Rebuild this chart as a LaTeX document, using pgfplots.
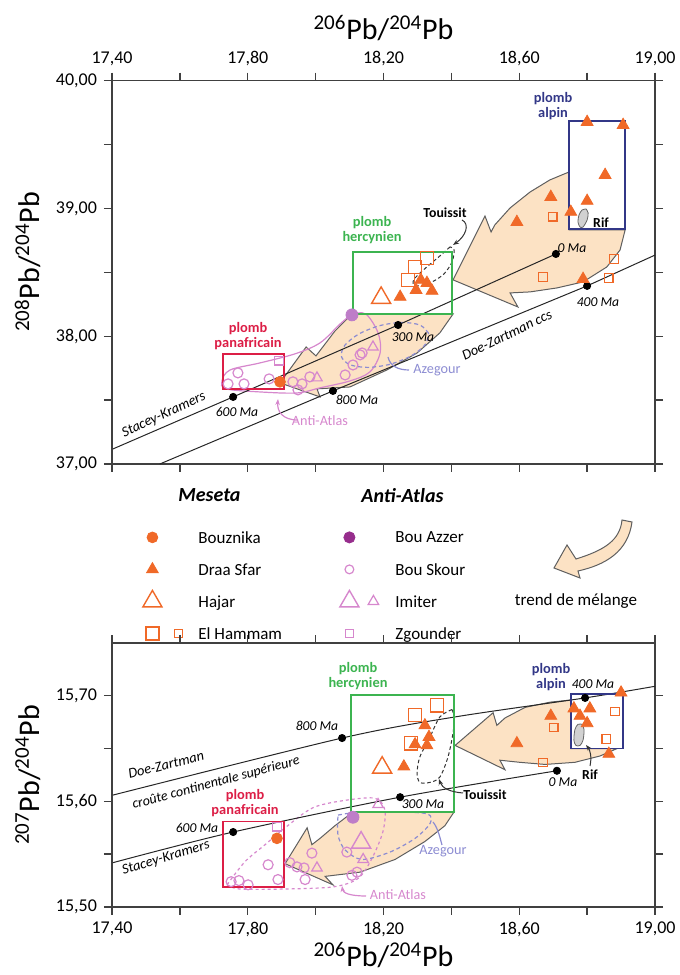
\documentclass[border=0pt]{standalone}
\usepackage{fontspec}
\setmainfont{Carlito}
\usepackage{pgfplots}
\pgfplotsset{compat=1.18}
\usetikzlibrary{arrows.meta}

\definecolor{orng}{RGB}{240,105,40}
\definecolor{pnk}{RGB}{214,135,205}
\definecolor{azz}{RGB}{190,125,200}
\definecolor{azzleg}{RGB}{150,45,140}
\definecolor{lav}{RGB}{140,140,210}
\definecolor{rbox}{RGB}{220,30,70}
\definecolor{gbox}{RGB}{60,180,80}
\definecolor{nbox}{RGB}{50,55,135}
\definecolor{peach}{RGB}{252,226,196}
\definecolor{arr}{RGB}{95,95,95}

\pgfplotsset{
  pb/.style={
    scale only axis, width=271.5pt, clip=false,
    xmin=17.4, xmax=19,
    xtick={17.4,17.8,18.2,18.6,19}, minor xtick={17.6,18,18.4,18.8},
    tick pos=both, tick align=outside,
    major tick length=4pt, minor tick length=4pt,
    axis line style={line width=0.7pt, black!75},
    tick style={line width=0.7pt, black!75},
    ticklabel style={font=\fontsize{9}{10}\selectfont},
    label style={font=\fontsize{15}{18}\selectfont},
    /pgf/number format/assume math mode=true,
    xticklabel style={/pgf/number format/fixed, /pgf/number format/fixed zerofill,
      /pgf/number format/precision=2, /pgf/number format/use comma},
    yticklabel style={/pgf/number format/fixed, /pgf/number format/fixed zerofill,
      /pgf/number format/precision=2, /pgf/number format/use comma},
  },
  ds/.style={only marks, mark=triangle*, mark size=3.4pt, color=orng, forget plot},
  hj/.style={only marks, mark=triangle, mark size=5.5pt, color=orng, mark options={line width=0.7pt}, forget plot},
  ehb/.style={only marks, mark=square, mark size=3.3pt, color=orng, mark options={line width=0.7pt}, forget plot},
  ehs/.style={only marks, mark=square, mark size=2.1pt, color=orng, mark options={line width=0.6pt}, forget plot},
  bz/.style={only marks, mark=*, mark size=2.7pt, color=orng, forget plot},
  ba/.style={only marks, mark=*, mark size=3pt, color=azz, forget plot},
  bs/.style={only marks, mark=o, mark size=2.5pt, color=pnk, mark options={line width=0.6pt}, forget plot},
  ims/.style={only marks, mark=triangle, mark size=3pt, color=pnk, mark options={line width=0.6pt}, forget plot},
  imb/.style={only marks, mark=triangle, mark size=5.5pt, color=pnk, mark options={line width=0.7pt}, forget plot},
  zg/.style={only marks, mark=square, mark size=2.1pt, color=pnk, mark options={line width=0.6pt}, forget plot},
  agept/.style={only marks, mark=*, mark size=1.8pt, color=black, forget plot},
  refl/.style={black!85, line width=0.5pt, no marks, forget plot},
  trend/.style={fill=peach, draw=arr, line width=0.5pt, no marks, forget plot},
  boxl/.style={line width=0.9pt, no marks, forget plot},
}

\begin{document}
\begin{tikzpicture}
\useasboundingbox (0,0) rectangle (340pt,487.5pt);

% ---------------- 208/204 vs 206/204 ----------------
\begin{axis}[pb, at={(56pt,255.5pt)}, anchor=south west, height=191.65pt,
  ymin=37, ymax=40, ytick={37,38,39,40}, minor ytick={37.5,38.5,39.5},
  xticklabel pos=upper,
  xlabel={\textsuperscript{206}Pb/\textsuperscript{204}Pb},
  ylabel={\textsuperscript{208}Pb/\textsuperscript{204}Pb},
  xlabel style={at={(axis description cs:0.5,1.1375)}, anchor=center},
  ylabel style={at={(axis description cs:-0.155,0.527)}, anchor=center},
  legend columns=2,
  legend style={at={(axis description cs:0.0516,-0.0548)}, anchor=north west,
    draw=none, fill=none, inner sep=0pt, column sep=0pt, row sep=0pt,
    font=\fontsize{8.5}{10}\selectfont, cells={anchor=west},
    nodes={inner sep=0pt, text depth=0pt}}]

% mixing trends
\addplot[trend] coordinates {(18.747,39.286) (18.690,39.223) (18.632,39.129) (18.573,39.004)
  (18.528,38.871) (18.517,38.816) (18.499,38.941) (18.405,38.441) (18.596,38.229) (18.573,38.339)
  (18.632,38.347) (18.711,38.378) (18.788,38.425) (18.858,38.542) (18.897,38.675) (18.912,38.832)
  (18.747,38.832) (18.747,39.286)};
\addplot[trend] coordinates {(18.107,38.174) (18.057,38.041) (18.001,37.846) (17.972,37.916)
  (17.895,37.635) (18.013,37.525) (18.004,37.588) (18.101,37.603) (18.210,37.736) (18.299,37.869)
  (18.366,38.026) (18.405,38.174) (18.107,38.174)};

% Anti-Atlas, Azegour, Touissit, Rif
\addplot[pnk, line width=0.6pt, smooth, tension=0.55, no marks, forget plot] coordinates {
  (18.107,38.174) (18.148,38.174) (18.184,38.026) (18.190,37.869) (18.160,37.721) (18.101,37.650)
  (18.013,37.596) (17.945,37.556) (17.836,37.564) (17.736,37.588) (17.724,37.650) (17.748,37.736)
  (17.836,37.791) (17.939,37.862) (18.013,37.948) (18.072,38.096) (18.107,38.174)};
\addplot[lav, line width=0.6pt, dash pattern=on 2pt off 1.5pt, smooth, no marks, forget plot] coordinates {
  (18.333,38.023) (18.308,38.087) (18.255,38.108) (18.189,38.083) (18.127,38.017) (18.086,37.929)
  (18.076,37.841) (18.101,37.777) (18.154,37.756) (18.220,37.781) (18.282,37.847) (18.323,37.935)
  (18.333,38.023)};
\addplot[black!80, line width=0.5pt, dash pattern=on 1.8pt off 1.3pt, smooth, no marks, forget plot] coordinates {
  (18.396,38.699) (18.366,38.628) (18.331,38.550) (18.293,38.456) (18.287,38.409) (18.307,38.394)
  (18.343,38.425) (18.378,38.487) (18.402,38.581) (18.408,38.675) (18.396,38.699)};
\addplot[fill=black!18, draw=black!60, line width=0.4pt, smooth, no marks, forget plot] coordinates {
  (18.797,38.996) (18.803,38.965) (18.800,38.910) (18.788,38.855) (18.779,38.855) (18.773,38.894)
  (18.776,38.949) (18.785,38.988) (18.797,38.996)};

% growth curves
\addplot[refl] coordinates {(17.403,37.118) (17.757,37.525) (18.243,38.088) (18.708,38.644)};
\addplot[refl] coordinates {(17.541,37.0) (18.051,37.572) (18.800,38.394) (19.0,38.635)};

% lead fields
\addplot[boxl, rbox] coordinates {(17.727,37.588) (17.907,37.588) (17.907,37.861) (17.727,37.861) (17.727,37.588) (17.907,37.588)};
\addplot[boxl, gbox] coordinates {(18.110,38.174) (18.402,38.174) (18.402,38.660) (18.110,38.660) (18.110,38.174) (18.402,38.174)};
\addplot[boxl, nbox] coordinates {(18.747,38.840) (18.912,38.840) (18.912,39.685) (18.747,39.685) (18.747,38.840) (18.912,38.840)};

\addplot[agept] coordinates {(17.757,37.525) (18.243,38.088) (18.708,38.644) (18.051,37.572) (18.800,38.394)};

% samples
\addplot[ds] coordinates {(18.800,39.677) (18.906,39.653) (18.853,39.262) (18.693,39.090) (18.800,39.059)
  (18.752,38.973) (18.593,38.894) (18.788,38.448) (18.249,38.308) (18.296,38.362) (18.310,38.441)
  (18.328,38.417) (18.343,38.355)};
\addplot[hj] coordinates {(18.193,38.300)};
\addplot[ehb] coordinates {(18.328,38.613) (18.293,38.542) (18.272,38.441)};
\addplot[ehs] coordinates {(18.699,38.934) (18.879,38.605) (18.670,38.464) (18.864,38.456)};
\addplot[bz] coordinates {(17.895,37.643)};
\addplot[bs] coordinates {(17.742,37.627) (17.771,37.713) (17.789,37.627) (17.863,37.666) (17.933,37.643)
  (17.960,37.627) (17.983,37.682) (17.948,37.580) (18.087,37.697) (18.110,37.775) (18.137,37.869)
  (18.131,37.854)};
\addplot[ims] coordinates {(18.004,37.674) (18.169,37.916)};
\addplot[zg] coordinates {(17.892,37.807)};
\addplot[ba] coordinates {(18.107,38.167)};

% legend
\addlegendimage{legend image code/.code={\path[draw=none,fill=none] (0pt,-13pt) rectangle (29pt,5pt);}}
\addlegendentry{\makebox[69.5pt][l]{\hspace*{-10pt}\fontsize{10}{12}\selectfont\bfseries\itshape Meseta}}
\addlegendimage{legend image code/.code={\path[draw=none,fill=none] (0pt,-13pt) rectangle (29pt,5pt);}}
\addlegendentry{\hspace*{-17pt}\fontsize{10}{12}\selectfont\bfseries\itshape Anti-Atlas}
\addlegendimage{legend image code/.code={\path[draw=none,fill=none] (0pt,-8pt) rectangle (29pt,8pt);
  \draw[orng, mark=*, mark size=2.7pt] plot coordinates {(6pt,0pt)};}}
\addlegendentry{\makebox[69.5pt][l]{Bouznika}}
\addlegendimage{legend image code/.code={\path[draw=none,fill=none] (0pt,-8pt) rectangle (29pt,8pt);
  \draw[azzleg, mark=*, mark size=2.8pt] plot coordinates {(6pt,0pt)};}}
\addlegendentry{Bou Azzer}
\addlegendimage{legend image code/.code={\path[draw=none,fill=none] (0pt,-8pt) rectangle (29pt,8pt);
  \draw[orng, mark=triangle*, mark size=3.4pt] plot coordinates {(6pt,0pt)};}}
\addlegendentry{\makebox[69.5pt][l]{Draa Sfar}}
\addlegendimage{legend image code/.code={\path[draw=none,fill=none] (0pt,-8pt) rectangle (29pt,8pt);
  \draw[pnk, line width=0.6pt, mark=o, mark size=2.2pt] plot coordinates {(6pt,0pt)};}}
\addlegendentry{Bou Skour}
\addlegendimage{legend image code/.code={\path[draw=none,fill=none] (0pt,-8pt) rectangle (29pt,8pt);
  \draw[orng, line width=0.7pt, mark=triangle, mark size=5.5pt] plot coordinates {(6pt,0pt)};}}
\addlegendentry{\makebox[69.5pt][l]{Hajar}}
\addlegendimage{legend image code/.code={\path[draw=none,fill=none] (0pt,-8pt) rectangle (29pt,8pt);
  \draw[pnk, line width=0.7pt, mark=triangle, mark size=5.5pt] plot coordinates {(6pt,0pt)};
  \draw[pnk, line width=0.6pt, mark=triangle, mark size=3pt] plot coordinates {(18pt,0pt)};}}
\addlegendentry{Imiter}
\addlegendimage{legend image code/.code={\path[draw=none,fill=none] (0pt,-8pt) rectangle (29pt,8pt);
  \draw[orng, line width=0.7pt, mark=square, mark size=3.3pt] plot coordinates {(6pt,0pt)};
  \draw[orng, line width=0.6pt, mark=square, mark size=2.1pt] plot coordinates {(19pt,0pt)};}}
\addlegendentry{\makebox[69.5pt][l]{El Hammam}}
\addlegendimage{legend image code/.code={\path[draw=none,fill=none] (0pt,-8pt) rectangle (29pt,8pt);
  \draw[pnk, line width=0.6pt, mark=square, mark size=2.1pt] plot coordinates {(6pt,0pt)};}}
\addlegendentry{Zgounder}
\end{axis}

% ---------------- 207/204 vs 206/204 ----------------
\begin{axis}[pb, at={(56pt,34pt)}, anchor=south west, height=132pt,
  ymin=15.5, ymax=15.75, ytick={15.5,15.6,15.7}, minor ytick={15.55,15.65},
  xlabel={\textsuperscript{206}Pb/\textsuperscript{204}Pb},
  ylabel={\textsuperscript{207}Pb/\textsuperscript{204}Pb},
  xlabel style={at={(axis description cs:0.5,-0.182)}, anchor=center},
  ylabel style={at={(axis description cs:-0.155,0.5)}, anchor=center}]

\addplot[trend] coordinates {(18.752,15.696) (18.691,15.694) (18.617,15.689) (18.558,15.679)
  (18.534,15.672) (18.523,15.684) (18.411,15.653) (18.558,15.630) (18.543,15.639) (18.602,15.637)
  (18.676,15.635) (18.764,15.637) (18.838,15.643) (18.888,15.650) (18.752,15.650) (18.752,15.696)};
\addplot[trend] coordinates {(18.110,15.590) (18.057,15.577) (18.013,15.565) (17.989,15.559)
  (17.975,15.575) (17.910,15.541) (18.051,15.521) (18.028,15.529) (18.131,15.533) (18.234,15.545)
  (18.322,15.562) (18.381,15.577) (18.408,15.590) (18.110,15.590)};

\addplot[pnk, line width=0.6pt, dash pattern=on 1.5pt off 1.5pt, smooth, no marks, forget plot] coordinates {
  (17.739,15.521) (17.792,15.543) (17.851,15.559) (17.910,15.575) (17.992,15.594) (18.087,15.601)
  (18.175,15.603) (18.204,15.592) (18.198,15.571) (18.166,15.546) (18.125,15.527) (18.051,15.519)
  (17.904,15.517) (17.777,15.517) (17.739,15.521)};
\addplot[lav, line width=0.6pt, dash pattern=on 2pt off 1.5pt, smooth, no marks, forget plot] coordinates {
  (18.066,15.587) (18.131,15.590) (18.249,15.590) (18.331,15.588) (18.337,15.579) (18.293,15.565)
  (18.219,15.552) (18.137,15.545) (18.087,15.554) (18.066,15.568) (18.066,15.587)};
\addplot[black!80, line width=0.5pt, dash pattern=on 1.8pt off 1.3pt, smooth, no marks, forget plot] coordinates {
  (18.402,15.687) (18.366,15.680) (18.337,15.661) (18.307,15.642) (18.299,15.627) (18.307,15.618)
  (18.337,15.618) (18.366,15.623) (18.390,15.642) (18.405,15.665) (18.408,15.680) (18.402,15.687)};
\addplot[fill=black!18, draw=black!60, line width=0.4pt, smooth, no marks, forget plot] coordinates {
  (18.785,15.673) (18.791,15.668) (18.788,15.658) (18.779,15.653) (18.767,15.653) (18.761,15.658)
  (18.764,15.668) (18.773,15.673) (18.785,15.673)};

\addplot[refl, smooth] coordinates {(17.403,15.606) (18.078,15.660) (18.411,15.680) (18.794,15.698) (19.0,15.709)};
\addplot[refl, smooth] coordinates {(17.403,15.542) (17.757,15.571) (18.249,15.604) (18.711,15.629)};

\addplot[boxl, rbox] coordinates {(17.727,15.519) (17.907,15.519) (17.907,15.581) (17.727,15.581) (17.727,15.519) (17.907,15.519)};
\addplot[boxl, gbox] coordinates {(18.104,15.590) (18.408,15.590) (18.408,15.701) (18.104,15.701) (18.104,15.590) (18.408,15.590)};
\addplot[boxl, nbox] coordinates {(18.752,15.650) (18.906,15.650) (18.906,15.702) (18.752,15.702) (18.752,15.650) (18.906,15.650)};

\addplot[agept] coordinates {(18.078,15.660) (18.794,15.698) (17.757,15.571) (18.249,15.604) (18.711,15.629)};

\addplot[ds] coordinates {(18.900,15.703) (18.761,15.688) (18.808,15.688) (18.693,15.681) (18.779,15.681)
  (18.800,15.674) (18.593,15.655) (18.864,15.645) (18.322,15.672) (18.334,15.661) (18.293,15.654)
  (18.328,15.653) (18.260,15.633)};
\addplot[hj] coordinates {(18.196,15.632)};
\addplot[ehb] coordinates {(18.293,15.682) (18.358,15.691) (18.281,15.655)};
\addplot[ehs] coordinates {(18.702,15.670) (18.882,15.685) (18.856,15.659) (18.670,15.637)};
\addplot[bz] coordinates {(17.886,15.565)};
\addplot[zg] coordinates {(17.886,15.576)};
\addplot[bs] coordinates {(17.751,15.524) (17.774,15.525) (17.801,15.521) (17.860,15.540) (17.889,15.526)
  (17.924,15.542) (17.945,15.538) (17.966,15.537) (17.969,15.526) (17.989,15.551) (18.092,15.552)
  (18.107,15.530) (18.122,15.533)};
\addplot[imb] coordinates {(18.134,15.561)};
\addplot[ims] coordinates {(18.184,15.597) (18.004,15.537) (18.140,15.545)};
\addplot[ba] coordinates {(18.110,15.585)};
\end{axis}

% ---------------- annotations (pixel frame of the figure) ----------------
\begin{scope}[shift={(0pt,487.5pt)}, x=0.5pt, y=-0.5pt]
\tikzset{fld/.style={font=\fontsize{7.2}{7.6}\selectfont\bfseries, align=center, inner sep=0pt},
  ma/.style={font=\fontsize{6.8}{8}\selectfont\itshape, inner sep=0pt},
  crv/.style={font=\fontsize{7.2}{8}\selectfont\itshape, inner sep=0pt},
  nm/.style={font=\fontsize{7.1}{8}\selectfont, inner sep=0pt}}
% top panel
\node[fld, rbox] at (248,336) {plomb\\panafricain};
\node[fld, gbox] at (372,230) {plomb\\hercynien};
\node[fld, nbox] at (553,106) {plomb\\alpin};
\node[nm, font=\fontsize{6.9}{8}\selectfont\bfseries] at (445,213) {Touissit};
\node[nm, font=\fontsize{6.9}{8}\selectfont\bfseries] at (601,223) {Rif};
\node[nm, lav] at (437,370) {Azegour};
\node[nm, pnk] at (320,421) {Anti-Atlas};
\node[crv, rotate=25] at (164,415) {Stacey-Kramers};
\node[crv, rotate=26] at (507,335) {Doe-Zartman ccs};
\node[ma] at (237,412) {600 Ma};
\node[ma] at (357,400) {800 Ma};
\node[ma] at (413,337) {300 Ma};
\node[ma] at (572,248) {0 Ma};
\node[ma] at (598,302) {400 Ma};
\draw[black!80, line width=0.5pt, -{Stealth[length=3pt]}] (462,220) .. controls (470,224) and (466,236) .. (453,245);
\draw[lav, line width=0.6pt] (388,357) .. controls (390,366) and (398,370) .. (409,370);
\draw[pnk, line width=0.6pt, -{Stealth[length=3pt]}] (298,420) .. controls (283,420) and (277,412) .. (278,399);
% legend trend icon
\filldraw[fill=peach, draw=arr, line width=0.5pt] (622,520) .. controls (620,540) and (605,550) .. (576,559)
  -- (567,545) -- (554,568) -- (580,578) -- (578,571) .. controls (605,565) and (628,552) .. (632,522) -- cycle;
\node[font=\fontsize{8.5}{10}\selectfont, inner sep=0pt] at (576,601) {trend de mélange};
% bottom panel
\node[fld, rbox] at (245,803) {plomb\\panafricain};
\node[fld, gbox] at (358,676) {plomb\\hercynien};
\node[fld, nbox] at (551,677) {plomb\\alpin};
\node[crv, rotate=14] at (166,765) {Doe-Zartman};
\node[crv, rotate=15, font=\fontsize{7}{8}\selectfont\itshape] at (216,783) {croûte continentale supérieure};
\node[crv, rotate=17] at (166,858) {Stacey-Kramers};
\node[ma] at (317,726) {800 Ma};
\node[ma] at (197,828) {600 Ma};
\node[ma] at (423,804) {300 Ma};
\node[ma] at (563,782) {0 Ma};
\node[ma] at (593,684) {400 Ma};
\node[nm, font=\fontsize{6.9}{8}\selectfont\bfseries] at (485,795) {Touissit};
\node[nm, font=\fontsize{6.9}{8}\selectfont\bfseries] at (590,775) {Rif};
\node[nm, lav] at (443,851) {Azegour};
\node[nm, pnk] at (398,895) {Anti-Atlas};
\draw[black!80, line width=0.5pt, -{Stealth[length=3pt]}] (463,793) .. controls (450,792) and (442,788) .. (439,779);
\draw[black!80, line width=0.5pt, -{Stealth[length=3pt]}] (590,766) .. controls (592,757) and (590,750) .. (586,745);
\draw[lav, line width=0.6pt] (433,822) .. controls (438,828) and (440,838) .. (442,845);
\draw[pnk, line width=0.6pt, -{Stealth[length=3pt]}] (366,896) .. controls (350,896) and (343,893) .. (342,886);
\end{scope}
\end{tikzpicture}
\end{document}
